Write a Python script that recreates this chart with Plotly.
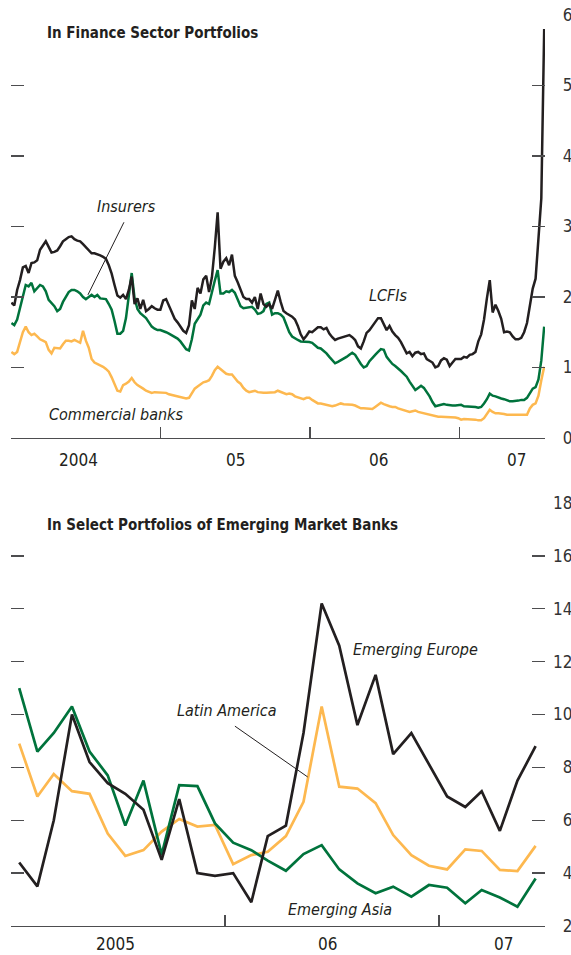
import pandas as pd
import plotly.graph_objects as go

# ---------------- Top panel: weekly data, Jan 2004 - Jul 2007 ----------------
top_dates = pd.date_range("2004-01-02", periods=187, freq="7D")

lcfis = [
    1.92, 1.88, 2.10, 2.24, 2.42, 2.44, 2.34, 2.48, 2.49, 2.52,
    2.67, 2.74, 2.79, 2.71, 2.63, 2.64, 2.66, 2.72, 2.79, 2.82,
    2.85, 2.86, 2.82, 2.80, 2.79, 2.75, 2.71, 2.67, 2.62, 2.62,
    2.61, 2.59, 2.57, 2.54, 2.45, 2.33, 2.17, 2.02, 1.99, 2.03,
    1.97, 2.10, 2.29, 1.90, 1.98, 1.83, 1.96, 1.80, 1.83, 1.87,
    1.84, 1.82, 1.82, 1.95, 1.97, 1.88, 1.77, 1.69, 1.64, 1.58,
    1.52, 1.49, 1.60, 1.95, 1.83, 2.13, 2.05, 2.25, 2.30, 2.07,
    2.28, 2.70, 3.20, 2.40, 2.50, 2.55, 2.45, 2.60, 2.30, 2.21,
    2.10, 2.00, 1.97, 1.97, 1.92, 2.00, 1.83, 2.05, 1.90, 1.86,
    1.90, 1.83, 1.96, 2.09, 1.93, 1.80, 1.77, 1.75, 1.72, 1.68,
    1.59, 1.47, 1.40, 1.45, 1.51, 1.50, 1.54, 1.57, 1.57, 1.54,
    1.56, 1.48, 1.43, 1.39, 1.41, 1.42, 1.44, 1.45, 1.46, 1.43,
    1.39, 1.30, 1.27, 1.37, 1.49, 1.53, 1.59, 1.65, 1.70, 1.70,
    1.62, 1.53, 1.59, 1.51, 1.46, 1.42, 1.36, 1.27, 1.20, 1.22,
    1.16, 1.21, 1.22, 1.19, 1.20, 1.12, 1.09, 1.07, 1.00, 1.02,
    1.10, 1.13, 1.11, 1.02, 1.07, 1.12, 1.12, 1.12, 1.15, 1.14,
    1.18, 1.19, 1.22, 1.37, 1.47, 1.68, 1.98, 2.24, 1.78, 1.89,
    1.80, 1.69, 1.50, 1.51, 1.50, 1.44, 1.40, 1.40, 1.42, 1.50,
    1.63, 1.90, 2.12, 2.26, 2.83, 3.40, 5.80,
]

insurers = [
    1.63, 1.60, 1.68, 1.85, 2.04, 2.17, 2.15, 2.20, 2.08, 2.12,
    2.17, 2.15, 2.08, 1.96, 1.91, 1.87, 1.80, 1.83, 1.93, 2.01,
    2.07, 2.10, 2.10, 2.08, 2.05, 2.00, 1.97, 2.00, 2.03, 2.00,
    2.03, 1.98, 1.98, 1.97, 1.90, 1.82, 1.66, 1.48, 1.48, 1.52,
    1.70, 2.05, 2.34, 1.98, 1.83, 1.77, 1.74, 1.70, 1.64, 1.58,
    1.55, 1.53, 1.53, 1.52, 1.50, 1.48, 1.46, 1.44, 1.41, 1.37,
    1.32, 1.26, 1.24, 1.40, 1.62, 1.68, 1.75, 1.88, 1.92, 1.90,
    2.08, 2.23, 2.38, 2.05, 2.05, 2.08, 2.07, 2.10, 2.06, 1.97,
    1.87, 1.84, 1.85, 1.86, 1.86, 1.82, 1.76, 1.77, 1.80, 1.90,
    1.92, 1.75, 1.77, 1.77, 1.75, 1.71, 1.60, 1.50, 1.44, 1.41,
    1.39, 1.37, 1.37, 1.37, 1.36, 1.35, 1.31, 1.28, 1.27, 1.24,
    1.20, 1.15, 1.10, 1.06, 1.08, 1.10, 1.12, 1.15, 1.18, 1.21,
    1.18, 1.11, 1.05, 1.00, 1.02, 1.09, 1.14, 1.18, 1.22, 1.26,
    1.25, 1.15, 1.10, 1.05, 1.02, 0.99, 0.95, 0.91, 0.87, 0.80,
    0.73, 0.68, 0.71, 0.74, 0.71, 0.65, 0.59, 0.51, 0.45, 0.46,
    0.47, 0.48, 0.47, 0.46, 0.46, 0.46, 0.47, 0.47, 0.45, 0.45,
    0.45, 0.44, 0.44, 0.43, 0.44, 0.49, 0.55, 0.63, 0.60, 0.59,
    0.57, 0.56, 0.55, 0.53, 0.52, 0.52, 0.52, 0.53, 0.54, 0.54,
    0.57, 0.64, 0.70, 0.72, 0.83, 1.10, 1.58,
]

commercial_banks = [
    1.22, 1.19, 1.22, 1.36, 1.50, 1.58, 1.50, 1.46, 1.48, 1.44,
    1.40, 1.38, 1.36, 1.25, 1.20, 1.28, 1.27, 1.27, 1.33, 1.38,
    1.38, 1.37, 1.39, 1.37, 1.35, 1.52, 1.38, 1.28, 1.12, 1.07,
    1.05, 1.04, 1.01, 0.98, 0.94, 0.86, 0.75, 0.67, 0.66, 0.75,
    0.77, 0.80, 0.85, 0.79, 0.75, 0.73, 0.70, 0.67, 0.65, 0.64,
    0.65, 0.65, 0.65, 0.64, 0.64, 0.62, 0.61, 0.60, 0.59, 0.58,
    0.57, 0.56, 0.57, 0.64, 0.70, 0.73, 0.76, 0.79, 0.80, 0.82,
    0.88, 0.96, 1.01, 0.98, 0.94, 0.91, 0.90, 0.90, 0.85, 0.80,
    0.77, 0.71, 0.67, 0.65, 0.66, 0.67, 0.65, 0.64, 0.64, 0.64,
    0.64, 0.65, 0.65, 0.67, 0.65, 0.64, 0.62, 0.63, 0.62, 0.59,
    0.58, 0.57, 0.55, 0.57, 0.57, 0.54, 0.51, 0.49, 0.49, 0.48,
    0.47, 0.46, 0.45, 0.46, 0.48, 0.49, 0.48, 0.48, 0.47, 0.47,
    0.46, 0.44, 0.42, 0.42, 0.42, 0.41, 0.41, 0.44, 0.47, 0.50,
    0.48, 0.46, 0.45, 0.44, 0.44, 0.42, 0.41, 0.40, 0.39, 0.37,
    0.38, 0.39, 0.37, 0.36, 0.35, 0.34, 0.33, 0.31, 0.30, 0.30,
    0.30, 0.30, 0.29, 0.29, 0.29, 0.29, 0.28, 0.26, 0.27, 0.27,
    0.27, 0.26, 0.26, 0.25, 0.25, 0.28, 0.34, 0.40, 0.37, 0.35,
    0.35, 0.35, 0.34, 0.33, 0.33, 0.33, 0.33, 0.32, 0.32, 0.33,
    0.33, 0.42, 0.47, 0.49, 0.60, 0.82, 1.01,
]

# ---------------- Bottom panel: monthly data, Jan 2005 - Jun 2007 ----------------
bot_dates = pd.date_range("2005-01-01", periods=30, freq="MS") + pd.Timedelta(days=14)

emerging_europe = [
    4.4, 3.5, 6.0, 10.0, 8.2, 7.4, 7.0, 6.4, 4.5, 6.8,
    4.0, 3.9, 4.0, 2.9, 5.4, 5.8, 9.3, 14.2, 12.6, 9.6,
    11.5, 8.5, 9.3, 8.1, 6.9, 6.5, 7.1, 5.6, 7.5, 8.8,
]
latin_america = [
    8.9, 6.9, 7.75, 7.1, 7.0, 5.5, 4.65, 4.87, 5.57, 6.05,
    5.76, 5.82, 4.34, 4.68, 4.81, 5.4, 6.7, 10.3, 7.27, 7.2,
    6.65, 5.44, 4.68, 4.28, 4.14, 4.9, 4.84, 4.12, 4.08, 5.03,
]
emerging_asia = [
    11.0, 8.6, 9.3, 10.3, 8.6, 7.7, 5.8, 7.5, 4.7, 7.33,
    7.29, 5.88, 5.15, 4.87, 4.47, 4.09, 4.72, 5.06, 4.14, 3.61,
    3.24, 3.49, 3.11, 3.55, 3.45, 2.86, 3.36, 3.08, 2.73, 3.8,
]

top_year_ticks = ["2004-01-01", "2005-01-01", "2006-01-01", "2007-01-01"]
top_year_labels = ["2004", "05", "06", "07"]
bot_year_ticks = ["2005-01-01", "2006-01-01", "2007-01-01"]
bot_year_labels = ["2005", "06", "07"]
top_y_ticks = [0, 1, 2, 3, 4, 5, 6]
bot_y_ticks = [2, 4, 6, 8, 10, 12, 14, 16, 18]

# ---------------- Styling ----------------
FONT = "Liberation Sans Narrow, Arial Narrow, DejaVu Sans Condensed, sans-serif"
BLACK = "#231f20"
GREEN = "#00733c"
YELLOW = "#fdb84f"
AXIS = "#4d4d4f"
FS = "\u2007"

fig = go.Figure()
fig.add_trace(go.Scatter(x=top_dates, y=commercial_banks, mode="lines",
                         line=dict(color=YELLOW, width=2.5), xaxis="x", yaxis="y"))
fig.add_trace(go.Scatter(x=top_dates, y=insurers, mode="lines",
                         line=dict(color=GREEN, width=2.5), xaxis="x", yaxis="y"))
fig.add_trace(go.Scatter(x=top_dates, y=lcfis, mode="lines",
                         line=dict(color=BLACK, width=2.5), xaxis="x", yaxis="y"))

fig.add_trace(go.Scatter(x=bot_dates, y=latin_america, mode="lines",
                         line=dict(color=YELLOW, width=2.7), xaxis="x2", yaxis="y2"))
fig.add_trace(go.Scatter(x=bot_dates, y=emerging_asia, mode="lines",
                         line=dict(color=GREEN, width=2.7), xaxis="x2", yaxis="y2"))
fig.add_trace(go.Scatter(x=bot_dates, y=emerging_europe, mode="lines",
                         line=dict(color=BLACK, width=2.7), xaxis="x2", yaxis="y2"))

xcommon = dict(type="date", ticks="inside", ticklen=11, tickwidth=1.3, tickcolor=AXIS,
               showticklabels=False, showline=True, linecolor=AXIS, linewidth=1.3,
               showgrid=False, zeroline=False, fixedrange=True, automargin=False)
ycommon = dict(side="right", ticks="inside", ticklen=13, tickwidth=1.3, tickcolor=AXIS,
               mirror="ticks", showline=False, showgrid=False, zeroline=False,
               ticklabelstandoff=7, automargin=False, fixedrange=True,
               tickfont=dict(family=FONT, size=17, color="#333333"))

fig.update_layout(
    width=571, height=955,
    margin=dict(l=11, r=26, t=15, b=29, autoexpand=False),
    paper_bgcolor="white", plot_bgcolor="white",
    showlegend=False,
    font=dict(family=FONT, color="#231f20"),
    xaxis=dict(domain=[0, 1], anchor="y", range=["2004-01-01", "2007-07-29"],
               tickvals=top_year_ticks, **xcommon),
    yaxis=dict(domain=[0.5357, 1], anchor="x", range=[0, 6],
               tickvals=top_y_ticks, ticktext=[FS + str(v) for v in top_y_ticks], **ycommon),
    xaxis2=dict(domain=[0, 1], anchor="y2", range=["2005-01-01", "2007-07-01"],
                tickvals=bot_year_ticks, **xcommon),
    yaxis2=dict(domain=[0, 0.4643], anchor="x2", range=[2, 18],
                tickvals=bot_y_ticks,
                ticktext=[(FS + str(v)) if v < 10 else str(v) for v in bot_y_ticks], **ycommon),
)

ann = []
def label(text, x, y, size=16, italic=True, bold=False, xanchor="center"):
    t = text
    if bold:
        t = "<b>" + t + "</b>"
    if italic:
        t = "<i>" + t + "</i>"
    ann.append(dict(text=t, x=x, y=y, xref="paper", yref="paper", showarrow=False,
                    xanchor=xanchor, yanchor="middle",
                    font=dict(family=FONT, size=size, color="#231f20")))

label("In Finance Sector Portfolios", 0.0637, 0.980, size=15, italic=False, bold=True, xanchor="left")
label("In Select Portfolios of Emerging Market Banks", 0.0637, 0.440, size=15, italic=False, bold=True, xanchor="left")
label("Insurers", 0.2172, 0.7903)
label("LCFIs", 0.706, 0.6916)
label("Commercial banks", 0.1966, 0.562)
label("Latin America", 0.4045, 0.2371)
label("Emerging Europe", 0.7566, 0.303)
label("Emerging Asia", 0.616, 0.0176)

for t, xp in zip(top_year_labels, [0.1255, 0.4195, 0.689, 0.9457]):
    label(t, xp, 0.5115, size=17, italic=False)
for t, xp in zip(bot_year_labels, [0.1966, 0.5936, 0.9232]):
    label(t, xp, -0.0198, size=17, italic=False)

fig.update_layout(annotations=ann)

fig.add_shape(type="line", xref="x", yref="y", x0="2004-10-03", y0=3.06, x1="2004-07-07", y1=2.03,
              line=dict(color="#231f20", width=1))
fig.add_shape(type="line", xref="x2", yref="y2", x0="2006-01-18", y0=9.56, x1="2006-05-22", y1=7.64,
              line=dict(color="#231f20", width=1))

fig.write_html(
    "out.html",
    config={"displayModeBar": False, "staticPlot": True},
    post_script="document.body.style.margin='0';document.body.style.padding='0';"
                "document.body.style.overflow='hidden';",
)
